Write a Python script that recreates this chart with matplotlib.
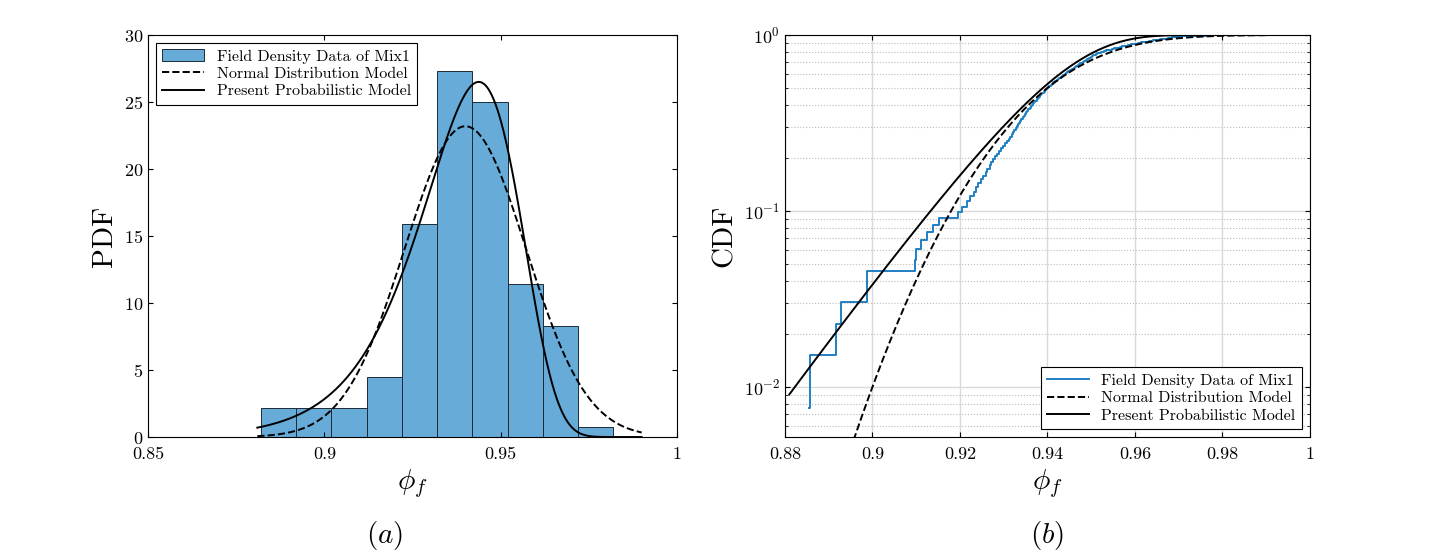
import numpy as np
import matplotlib
matplotlib.use("Agg")
import matplotlib.pyplot as plt
from math import erf

plt.rcParams['font.family'] = 'serif'
plt.rcParams['font.serif'] = ['cmr10', 'DejaVu Serif']
plt.rcParams['mathtext.fontset'] = 'cm'
plt.rcParams['axes.formatter.use_mathtext'] = True

# histogram (PDF) data
bin_edges = [0.882, 0.892, 0.902, 0.912, 0.922, 0.932, 0.942, 0.952, 0.962, 0.972, 0.982]
bin_heights = [2.2, 2.2, 2.2, 4.5, 15.9, 27.3, 25.0, 11.4, 8.3, 0.75]

# field density samples (for empirical CDF)
samples = [0.8855, 0.8858, 0.8917,
           0.8928, 0.8987, 0.8988,
           0.9097, 0.9100, 0.9112,
           0.9125, 0.9138, 0.9152, 0.9195, 0.9205, 0.9215,
           0.9224, 0.9231, 0.9236, 0.9242, 0.9248, 0.9253, 0.9259, 0.9262, 0.9268, 0.9271, 0.9276,
           0.9281, 0.9285, 0.9290, 0.9294, 0.9298, 0.9303, 0.9307, 0.9311, 0.9314, 0.9318,
           0.9322, 0.9324, 0.9327, 0.9330, 0.9332, 0.9335, 0.9338, 0.9340, 0.9343, 0.9346, 0.9348,
           0.9351, 0.9354, 0.9356, 0.9359, 0.9362, 0.9364, 0.9367, 0.9370, 0.9372, 0.9375, 0.9378,
           0.9380, 0.9383, 0.9386, 0.9388, 0.9391, 0.9394, 0.9396, 0.9399, 0.9402, 0.9404, 0.9407,
           0.9410, 0.9413, 0.9417,
           0.9421, 0.9424, 0.9427, 0.9430, 0.9433, 0.9436, 0.9439, 0.9442, 0.9445, 0.9448, 0.9451,
           0.9454, 0.9457, 0.9460, 0.9463, 0.9466, 0.9469, 0.9472, 0.9475, 0.9478, 0.9481, 0.9484,
           0.9487, 0.9490, 0.9493, 0.9496, 0.9499, 0.9502, 0.9505, 0.9508, 0.9511, 0.9514, 0.9517,
           0.9523, 0.9529, 0.9534, 0.9541, 0.9547, 0.9553, 0.9558, 0.9565, 0.9571, 0.9578, 0.9584,
           0.9592, 0.9599, 0.9606, 0.9614,
           0.9624, 0.9632, 0.9641, 0.9650, 0.9658, 0.9667, 0.9676, 0.9684, 0.9692, 0.9701, 0.9712,
           0.9762]

# model parameters
normal_mean, normal_sd = 0.940, 0.0172
weib_k, weib_lam = 68.0, 0.9440

x = np.linspace(0.881, 0.99, 600)
normal_pdf = np.exp(-0.5 * ((x - normal_mean) / normal_sd) ** 2) / (normal_sd * np.sqrt(2 * np.pi))
normal_cdf = np.array([0.5 * (1 + erf((xi - normal_mean) / (normal_sd * np.sqrt(2)))) for xi in x])
zw = (x / weib_lam) ** weib_k
present_pdf = weib_k / x * zw * np.exp(-zw)
present_cdf = 1 - np.exp(-zw)

fig = plt.figure(figsize=(14.44, 5.57), dpi=100)
ax1 = fig.add_axes([0.1025, 0.2154, 0.3663, 0.7217])
ax2 = fig.add_axes([0.5436, 0.2154, 0.3636, 0.7217])

bar_color = '#67abd9'
widths = np.diff(bin_edges)
ax1.bar(bin_edges[:-1], bin_heights, width=widths, align='edge', color=bar_color,
        edgecolor='#1f2a33', linewidth=0.7, label='Field Density Data of Mix1', zorder=1)
ax1.plot(x, normal_pdf, 'k--', lw=1.4, label='Normal Distribution Model', zorder=2)
ax1.plot(x, present_pdf, 'k-', lw=1.4, label='Present Probabilistic Model', zorder=2)
ax1.set_xlim(0.85, 1.0)
ax1.set_ylim(0, 30)
ax1.set_xticks([0.85, 0.9, 0.95, 1.0])
ax1.set_xticklabels(['0.85', '0.9', '0.95', '1'])
ax1.set_yticks(range(0, 31, 5))
ax1.set_ylabel('PDF', fontsize=21)
ax1.set_xlabel(r'$\phi_f$', fontsize=21)
ax1.tick_params(labelsize=13, direction='in', top=True, right=True)
ax1.tick_params(axis='x', pad=7)
h, l = ax1.get_legend_handles_labels()
order = [l.index('Field Density Data of Mix1'), l.index('Normal Distribution Model'),
         l.index('Present Probabilistic Model')]
leg1 = ax1.legend([h[i] for i in order], [l[i] for i in order], loc='upper left',
                  fontsize=11.5, fancybox=False, edgecolor='k', framealpha=1,
                  borderaxespad=0.5, handlelength=2.6, labelspacing=0.2)
leg1.get_frame().set_linewidth(0.8)

# empirical CDF
s = np.sort(np.array(samples))
n = len(s)
ecdf_x = np.concatenate([[s[0]], np.repeat(s[1:], 2)])
steps = np.arange(1, n + 1) / n
ecdf_y = np.concatenate([np.repeat(steps[:-1], 2), [steps[-1]]])
ax2.plot(ecdf_x, ecdf_y, color='#1f7fc4', lw=1.4, label='Field Density Data of Mix1')
ax2.plot(x, normal_cdf, 'k--', lw=1.4, label='Normal Distribution Model')
ax2.plot(x, present_cdf, 'k-', lw=1.4, label='Present Probabilistic Model')
ax2.set_yscale('log')
ax2.set_xlim(0.88, 1.0)
ax2.set_ylim(10 ** -2.284, 1.0)
ax2.set_xticks(np.arange(0.88, 1.001, 0.02))
ax2.set_xticklabels(['0.88', '0.9', '0.92', '0.94', '0.96', '0.98', '1'])
ax2.grid(True, which='major', color='#d9d9d9', lw=1.0)
ax2.grid(True, which='minor', axis='y', color='#bbbbbb', lw=0.8, ls=':')
ax2.set_axisbelow(True)
ax2.set_ylabel('CDF', fontsize=21)
ax2.set_xlabel(r'$\phi_f$', fontsize=21)
ax2.tick_params(labelsize=13, direction='in', top=True, right=True, which='both')
ax2.tick_params(axis='x', pad=7)
leg2 = ax2.legend(loc='lower right', fontsize=11.5, fancybox=False, edgecolor='k',
                  framealpha=1, borderaxespad=0.5, handlelength=2.6, labelspacing=0.2)
leg2.get_frame().set_linewidth(0.8)

fig.text(0.2665, 0.025, r'$(a)$', fontsize=21, ha='center')
fig.text(0.7254, 0.025, r'$(b)$', fontsize=21, ha='center')

fig.savefig('out.png', dpi=100)
